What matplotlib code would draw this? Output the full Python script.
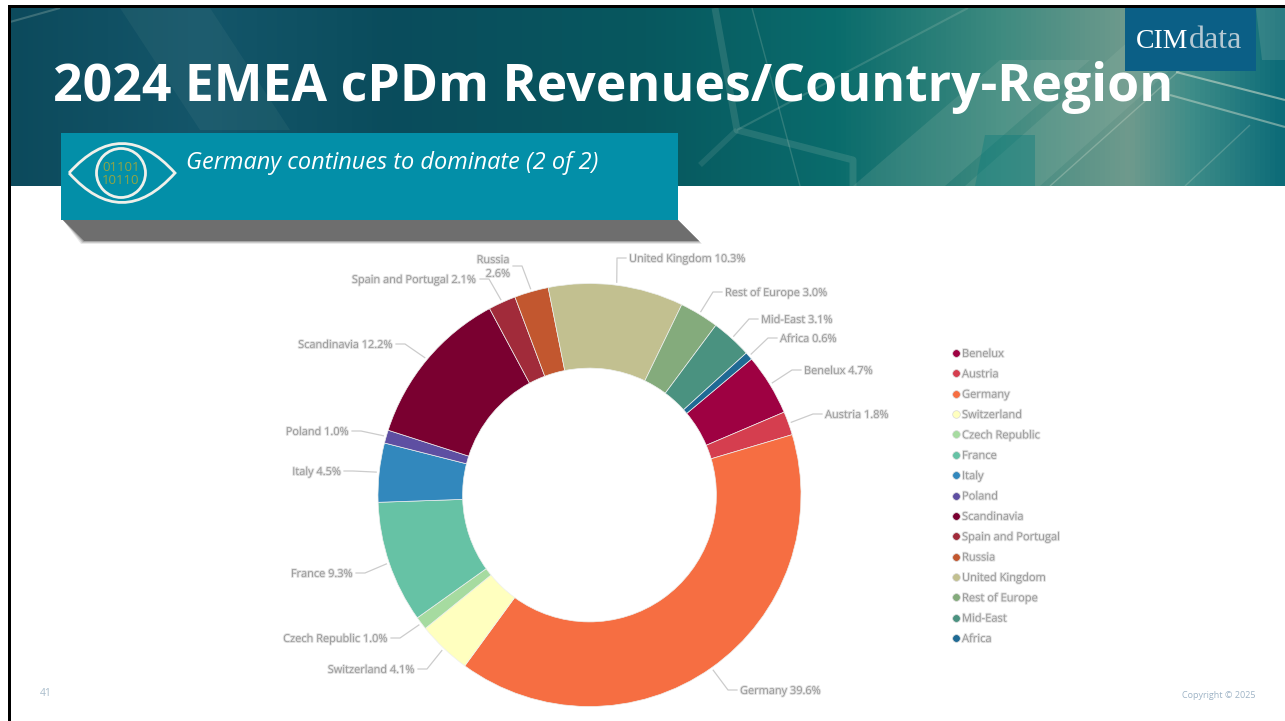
import numpy as np
import matplotlib
matplotlib.use('Agg')
from matplotlib import pyplot as plt
from matplotlib.colors import LinearSegmentedColormap
from matplotlib.patches import Circle, PathPatch, Polygon, Rectangle
from matplotlib.path import Path
import matplotlib.patheffects as pe

W, H = 1285, 721

regions = ['Benelux', 'Austria', 'Germany', 'Switzerland', 'Czech Republic', 'France', 'Italy',
           'Poland', 'Scandinavia', 'Spain and Portugal', 'Russia', 'United Kingdom',
           'Rest of Europe', 'Mid-East', 'Africa']
shares = [4.7, 1.8, 39.6, 4.1, 1.0, 9.3, 4.5, 1.0, 12.2, 2.1, 2.6, 10.3, 3.0, 3.1, 0.6]
colors = ['#9e0142', '#d53e4f', '#f66e42', '#ffffbf', '#a6dba0', '#66c2a5', '#3288bd', '#5e4fa2',
          '#7a0030', '#a12b3a', '#c2572f', '#c2c090', '#84ab7c', '#4a9280', '#1f6a94']

# label layout in pixels: text x, text y, align
label_xy = [(804, 370, 'left'), (825, 414, 'left'), (740, 690, 'left'), (415, 669, 'right'),
            (388, 638, 'right'), (353, 573, 'right'), (341, 471, 'right'), (349, 431, 'right'),
            (393, 344, 'right'), (477, 279, 'right'), (510, 266, 'right'), (629, 258, 'left'),
            (725, 292, 'left'), (761, 319, 'left'), (780, 338, 'left')]

CX, CY, R = 589.5, 495, 211.5
START = 40

plt.rcParams['font.family'] = ['Open Sans', 'DejaVu Sans']

fig = plt.figure(figsize=(W / 100, H / 100), dpi=100, facecolor='white')
bg = fig.add_axes([0, 0, 1, 1])
bg.axis('off')

# banner
banner_cmap = LinearSegmentedColormap.from_list('banner', [
    (0.0, '#0c4a5c'), (0.15, '#14566a'), (0.3, '#0a4c5c'), (0.5, '#07585f'), (0.65, '#0a6c6c'),
    (0.78, '#3f8b80'), (0.88, '#6f9a8d'), (0.93, '#3d8c88'), (1.0, '#0c6b78')])
bg.imshow(np.linspace(0, 1, 256)[None, :], cmap=banner_cmap, extent=(8, W, 186, 8), aspect='auto', zorder=0)
bg.set_xlim(0, W)
bg.set_ylim(H, 0)

streaks = [([(120, 8), (210, 8), (290, 130), (200, 130)], 0.07),
           ([(853, 186), (1000, 60), (1090, 60), (945, 186)], 0.16),
           ([(965, 186), (1130, 40), (1170, 70), (1040, 186)], 0.16),
           ([(1256, 8), (1285, 8), (1285, 60), (1262, 60)], 0.2)]
for s, alpha in streaks:
    bg.add_patch(Polygon(s, fc='#a8c4b4', ec='none', alpha=alpha, zorder=1))
bg.add_patch(Polygon([(985, 135), (1035, 135), (1035, 186), (975, 186)], fc='#0a7c7c', ec='none', alpha=0.4, zorder=1))

banner_lines = [([715, 737, 853, 853], [8, 130, 160, 186], 5, 0.15),
                ([737, 968], [130, 8], 1.5, 0.18),
                ([700, 737], [165, 130], 4, 0.12),
                ([752, 800], [8, 186], 1, 0.2),
                ([1176, 1285], [72, 100], 1.5, 0.6),
                ([1170, 1285], [95, 127], 1.5, 0.5),
                ([1050, 1180], [186, 70], 1, 0.35),
                ([1185, 1250], [186, 125], 1, 0.25),
                ([10, 60], [22, 8], 1.5, 0.25)]
for xs, ys, lw, alpha in banner_lines:
    bg.plot(xs, ys, color='#c8d8c8', lw=lw, alpha=alpha, zorder=1, solid_capstyle='butt')

# slide border
bg.add_patch(Rectangle((8, 5), W - 8, 3, fc='black', ec='none', zorder=2))
bg.add_patch(Rectangle((8, 5), 2.6, H - 5, fc='black', ec='none', zorder=2))

# logo
bg.add_patch(Rectangle((1125, 8), 131, 63, fc='#0b5f86', ec='none', zorder=3))
bg.text(1136, 48, 'CIM', color='white', fontsize=20, family='Liberation Serif', va='baseline', zorder=4)
bg.text(1189, 48, 'data', color='#b4c8d2', fontsize=23, family='Liberation Serif', va='baseline', zorder=4)

bg.text(53, 101, '2024 EMEA cPDm Revenues/Country-Region', color='white', fontsize=37.3, fontweight='bold',
        va='baseline', zorder=5)

# callout
for grow, alpha in zip([3, 2, 1, 0], [0.15, 0.25, 0.4, 1]):
    bg.add_patch(Polygon([(63, 220), (678, 220), (699 + grow, 241 + grow), (84 - grow, 241 + grow)],
                         fc='#6e6e6e', ec='none', alpha=alpha, zorder=3))
bg.add_patch(Rectangle((61, 133), 617, 87, fc='#038fa8', ec='none', zorder=4))
bg.text(186, 163, 'Germany continues to dominate (2 of 2)', color='white', fontsize=16.95, style='italic',
        va='center', zorder=5)

eye = Path([(69, 173), (122, 114), (175, 173), (122, 232), (69, 173)],
           [Path.MOVETO, Path.CURVE3, Path.CURVE3, Path.CURVE3, Path.CURVE3])
bg.add_patch(PathPatch(eye, fc='none', ec='#f0f0ea', lw=2, zorder=5))
bg.add_patch(Circle((121, 173), 24.5, fc='none', ec='#f0f0ea', lw=2, zorder=5))
bg.text(121, 174, '01101\n10110', color='#93a544', fontsize=9.5, ha='center', va='center', zorder=5,
        linespacing=1.05)

# donut
ax = fig.add_axes([(CX - R) / W, 1 - (CY + R) / H, 2 * R / W, 2 * R / H])
ax.patch.set_alpha(0)
wedges, _ = ax.pie(shares, colors=colors, startangle=START, counterclock=False, radius=1,
                   wedgeprops=dict(width=0.4, edgecolor='#eef0ee', linewidth=0.5))
ax.set_xlim(-1, 1)
ax.set_ylim(-1, 1)

soft = [pe.withStroke(linewidth=1.4, foreground='#e2e2e2')]

for wedge, name, share, (tx, ty, ha) in zip(wedges, regions, shares, label_xy):
    mid = np.deg2rad((wedge.theta1 + wedge.theta2) / 2)
    sx = CX + (R + 3) * np.cos(mid)
    sy = CY - (R + 3) * np.sin(mid)
    step = 3 if ha == 'left' else -3
    ex = tx - step
    elbow = ex - 9 if ha == 'left' else ex + 9
    bg.plot([sx, elbow, ex], [sy, ty, ty], color='#cccccc', lw=0.9, zorder=2)
    text = f'{name}\n{share}%' if name == 'Russia' else f'{name} {share}%'
    bg.text(tx, ty + 1.5, text, color='#999999', fontsize=7.9, ha=ha, va='center', multialignment=ha,
            path_effects=soft, zorder=2, linespacing=1.35)

# legend
for i, (name, color) in enumerate(zip(regions, colors)):
    y = 353 + i * 20.36
    bg.plot([956], [y], 'o', color=color, ms=5.5, mec='#d8d8d8', mew=0.5, zorder=2)
    bg.text(962, y + 1.5, name, color='#999999', fontsize=8.0, va='center', path_effects=soft, zorder=2)

bg.text(40, 694, '41', color='#a9bccb', fontsize=7.5, va='center')
bg.text(1255, 695, 'Copyright © 2025', color='#9fb4c6', fontsize=6.5, ha='right', va='center')

fig.savefig('out.png', dpi=100, facecolor='white')
